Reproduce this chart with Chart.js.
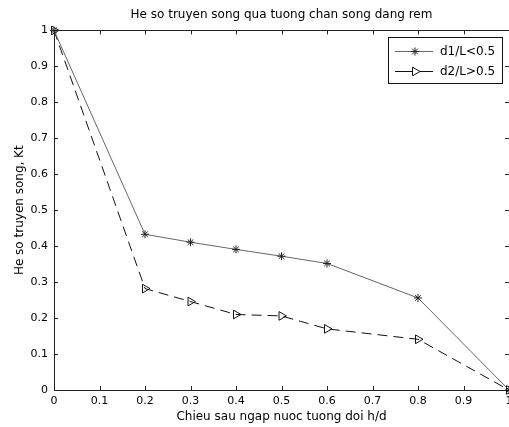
<!DOCTYPE html>
<html>
<head>
<meta charset="utf-8">
<script src="https://cdn.jsdelivr.net/npm/chart.js@4/dist/chart.umd.min.js"></script>
<style>
  body { margin: 0; background: #fff; }
  canvas { display: block; }
</style>
</head>
<body>
<canvas id="c" width="509" height="427"></canvas>
<script>
// relative submergence depth h/d
var hd = [0, 0.2, 0.3, 0.4, 0.5, 0.6, 0.8, 1];
// transmission coefficient Kt
var ktD1 = [1, 0.433, 0.411, 0.391, 0.372, 0.352, 0.256, 0];
var ktD2 = [1, 0.282, 0.246, 0.210, 0.206, 0.170, 0.141, 0];
var seriesNames = ['d1/L<0.5', 'd2/L>0.5'];

var FONT = 'DejaVu Sans';

function points(ys) {
    return hd.map(function(x, i) { return {x: x, y: ys[i]}; });
}

function tickText(v) {
    return String(Number(v.toFixed(1)));
}

// inward ticks on all four sides, box and MATLAB-like legend
var frame = {
    id: 'frame',
    afterDraw: function(chart) {
        var ctx = chart.ctx, a = chart.chartArea;
        var xs = chart.scales.x, ys = chart.scales.y;
        ctx.save();
        ctx.strokeStyle = '#222';
        ctx.lineWidth = 1;
        ctx.beginPath();
        xs.ticks.forEach(function(t) {
            var px = Math.round(xs.getPixelForValue(t.value)) + 0.5;
            ctx.moveTo(px, a.bottom); ctx.lineTo(px, a.bottom - 4);
            ctx.moveTo(px, a.top); ctx.lineTo(px, a.top + 4);
        });
        ys.ticks.forEach(function(t) {
            var py = Math.round(ys.getPixelForValue(t.value)) + 0.5;
            ctx.moveTo(a.left, py); ctx.lineTo(a.left + 4, py);
            ctx.moveTo(a.right, py); ctx.lineTo(a.right - 4, py);
        });
        ctx.stroke();
        ctx.strokeRect(Math.round(a.left) + 0.5, Math.round(a.top) + 0.5,
            Math.round(a.right - a.left), Math.round(a.bottom - a.top));

        // legend
        var bx = 388.5, by = 37.5, bw = 114, bh = 46;
        ctx.fillStyle = '#fff';
        ctx.fillRect(bx, by, bw, bh);
        ctx.strokeStyle = '#111';
        ctx.strokeRect(bx, by, bw, bh);
        chart.data.datasets.forEach(function(ds, i) {
            var y = 51.5 + i * 20;
            ctx.strokeStyle = ds.borderColor;
            ctx.setLineDash([]);
            ctx.beginPath();
            ctx.moveTo(395, y); ctx.lineTo(433, y);
            ctx.stroke();
            ctx.strokeStyle = ds.pointBorderColor;
            ctx.fillStyle = '#fff';
            Chart.helpers.drawPoint(ctx, {
                pointStyle: ds.pointStyle,
                radius: ds.pointRadius,
                rotation: ds.pointRotation || 0,
                borderWidth: 1
            }, 415, y);
            ctx.fillStyle = '#000';
            ctx.font = '12px "' + FONT + '"';
            ctx.textBaseline = 'middle';
            ctx.textAlign = 'left';
            ctx.fillText(ds.label, 440, y);
        });
        ctx.restore();
    }
};

new Chart(document.getElementById('c'), {
    type: 'line',
    data: {
        datasets: [{
            label: seriesNames[0],
            data: points(ktD1),
            borderColor: '#666',
            borderWidth: 1,
            pointStyle: 'star',
            pointRadius: 4,
            pointBorderColor: '#222',
            pointBackgroundColor: 'rgba(0,0,0,0)',
            pointBorderWidth: 1,
            tension: 0
        }, {
            label: seriesNames[1],
            data: points(ktD2),
            borderColor: '#111',
            borderWidth: 1,
            borderDash: [10, 6],
            pointStyle: 'triangle',
            pointRotation: 90,
            pointRadius: 5,
            pointBorderColor: '#111',
            pointBackgroundColor: 'rgba(0,0,0,0)',
            pointBorderWidth: 1,
            tension: 0
        }]
    },
    options: {
        responsive: false,
        animation: false,
        clip: false,
        layout: { padding: 0, autoPadding: false },
        plugins: {
            legend: { display: false },
            tooltip: { enabled: false },
            title: {
                display: true,
                fullSize: false,
                text: 'He so truyen song qua tuong chan song dang rem',
                color: '#000',
                font: { family: FONT, size: 12, weight: 'normal' },
                padding: { top: 8, bottom: 8 }
            }
        },
        scales: {
            x: {
                type: 'linear',
                min: 0, max: 1,
                ticks: {
                    stepSize: 0.1, autoSkip: false, maxRotation: 0,
                    color: '#000', padding: 5,
                    font: { family: FONT, size: 11 },
                    callback: tickText
                },
                grid: { drawOnChartArea: false, drawTicks: false },
                border: { display: true, color: '#222' },
                title: {
                    display: true,
                    text: 'Chieu sau ngap nuoc tuong doi h/d',
                    color: '#000',
                    font: { family: FONT, size: 12 },
                    padding: { top: 0, bottom: 3 }
                },
                afterFit: function(s) {
                    s.height = 37;
                    s.paddingLeft = 0;
                    s.paddingRight = 0;
                }
            },
            y: {
                type: 'linear',
                min: 0, max: 1,
                ticks: {
                    stepSize: 0.1, autoSkip: false,
                    color: '#000', padding: 6,
                    font: { family: FONT, size: 11 },
                    callback: tickText
                },
                grid: { drawOnChartArea: false, drawTicks: false },
                border: { display: true, color: '#222' },
                title: {
                    display: true,
                    text: 'He so truyen song, Kt',
                    color: '#000',
                    font: { family: FONT, size: 12 },
                    padding: { top: 13, bottom: 0 }
                },
                afterFit: function(s) {
                    s.width = 54;
                    s.paddingTop = 0;
                    s.paddingBottom = 0;
                }
            }
        }
    },
    plugins: [frame]
});
</script>
</body>
</html>
